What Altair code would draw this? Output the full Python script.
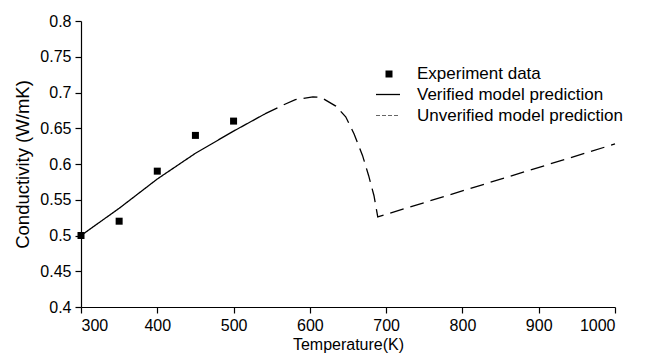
import altair as alt
import pandas as pd

# Experimental data
exp_T = [300, 350, 400, 450, 500]
exp_k = [0.50, 0.52, 0.59, 0.64, 0.66]

# Verified model prediction (solid)
ver_T = [300, 350, 400, 450, 500, 541]
ver_k = [0.500, 0.538, 0.579, 0.615, 0.646, 0.670]

# Unverified model prediction (dashed)
unv_T = [541, 564, 581, 604, 615, 634, 647, 658, 669, 677, 684, 689, 1000]
unv_k = [0.670, 0.682, 0.690, 0.694, 0.693, 0.681, 0.666, 0.642, 0.612, 0.584, 0.556, 0.526, 0.628]

labels = ["Experiment data", "Verified model prediction", "Unverified model prediction"]

exp_df = pd.DataFrame({"T": exp_T, "k": exp_k, "series": labels[0]})
line_df = pd.concat([
    pd.DataFrame({"T": ver_T, "k": ver_k, "series": labels[1]}),
    pd.DataFrame({"T": unv_T, "k": unv_k, "series": labels[2]}),
])

FONT = "Liberation Sans"

x = alt.X("T:Q", title="Temperature(K)",
          scale=alt.Scale(domain=[300, 1000], nice=False, zero=False),
          axis=alt.Axis(values=list(range(300, 1001, 100)), format="d"))
y = alt.Y("k:Q", title="Conductivity (W/mK)",
          scale=alt.Scale(domain=[0.4, 0.8], nice=False, zero=False),
          axis=alt.Axis(values=[0.4, 0.45, 0.5, 0.55, 0.6, 0.65, 0.7, 0.75, 0.8], format="~g",
                        titleFontSize=18.5, titlePadding=7))

points = alt.Chart(exp_df).mark_square(color="black", opacity=1, size=49).encode(x=x, y=y)

lines = alt.Chart(line_df).mark_line(color="black", strokeWidth=1.3).encode(
    x=x, y=y,
    detail="series:N",
    strokeDash=alt.StrokeDash("series:N", scale=alt.Scale(domain=labels[1:], range=[[1, 0], [14, 7]]), legend=None),
)

# Hand-built legend (positions in pixels of the plot area)
def legend_text(i, ypx):
    return alt.Chart(pd.DataFrame({"label": [labels[i]]})).mark_text(
        align="left", baseline="middle", font=FONT, fontSize=17, color="black"
    ).encode(x=alt.value(336), y=alt.value(ypx), text="label:N")

leg_sq = alt.Chart(pd.DataFrame({"label": [labels[0]]})).mark_square(
    color="black", opacity=1, size=49).encode(x=alt.value(308), y=alt.value(53))
leg_solid = alt.Chart(pd.DataFrame({"label": [labels[1]]})).mark_rule(
    color="black", strokeWidth=1.3).encode(x=alt.value(295), x2=alt.value(319), y=alt.value(73.5))
leg_dash = alt.Chart(pd.DataFrame({"label": [labels[2]]})).mark_rule(
    color="#666666", strokeWidth=1.2, strokeDash=[4, 2]).encode(x=alt.value(295), x2=alt.value(319), y=alt.value(94.5))

chart = alt.layer(
    lines, points, leg_sq, leg_solid, leg_dash,
    legend_text(0, 53), legend_text(1, 73.5), legend_text(2, 94.5)
).properties(width=534, height=286).configure_view(
    stroke=None
).configure_axis(
    grid=False, domainColor="black", tickColor="black", labelColor="black",
    titleColor="black", labelFont=FONT, titleFont=FONT, labelFontSize=16,
    titleFontSize=16, titleFontWeight="normal", tickSize=6, labelPadding=4,
    domainWidth=1.2, tickWidth=1.2
).configure_axisX(titlePadding=3)

chart.save("out.html", embed_options={"renderer": "svg", "actions": False})
